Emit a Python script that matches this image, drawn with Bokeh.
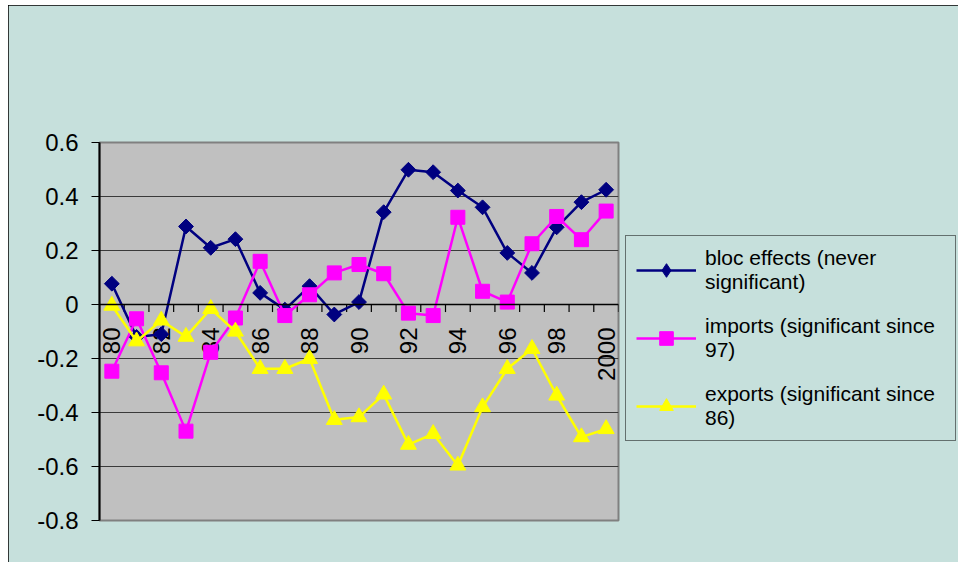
import numpy as np
from bokeh.plotting import figure
from bokeh.models import Range1d, FixedTicker, Span, Legend, LegendItem
from bokeh.core.properties import value
from bokeh.embed import file_html
from bokeh.resources import INLINE

years = list(range(1980, 2001))
bloc = [0.077, -0.12, -0.11, 0.289, 0.21, 0.242, 0.043, -0.019, 0.068, -0.037, 0.009,
        0.342, 0.499, 0.49, 0.422, 0.36, 0.191, 0.117, 0.286, 0.379, 0.425]
imports = [-0.247, -0.053, -0.253, -0.469, -0.177, -0.05, 0.16, -0.041, 0.036, 0.117, 0.148,
           0.114, -0.032, -0.041, 0.323, 0.049, 0.009, 0.225, 0.326, 0.24, 0.346]
exports = [-0.004, -0.136, -0.059, -0.119, -0.016, -0.1, -0.238, -0.238, -0.201, -0.427, -0.417,
           -0.333, -0.519, -0.479, -0.596, -0.38, -0.238, -0.164, -0.337, -0.491, -0.461]
label_years = [1980, 1982, 1984, 1986, 1988, 1990, 1992, 1994, 1996, 1998, 2000]
x_labels = ["80", "82", "84", "86", "88", "90", "92", "94", "96", "98", "2000"]
y_ticks = [-0.8, -0.6, -0.4, -0.2, 0, 0.2, 0.4, 0.6]
y_labels = ["-0.8", "-0.6", "-0.4", "-0.2", "0", "0.2", "0.4", "0.6"]
series_names = ["bloc effects (never\nsignificant)", "imports (significant since\n97)",
                "exports (significant since\n86)"]

BG = "#C6E0DC"
FONT = "Liberation Sans"

p = figure(frame_width=519, frame_height=378, output_backend="svg", toolbar_location=None,
           x_range=Range1d(years[0] - 0.5, years[-1] + 0.5), y_range=Range1d(-0.8, 0.6),
           min_border_left=91, min_border_right=0, min_border_top=137, min_border_bottom=42)
p.margin = (5, 0, 0, 8)
p.background_fill_color = "#C0C0C0"
p.border_fill_color = BG
p.outline_line_color = "#808080"
p.outline_line_width = 2
p.styles = {"outline": "1px solid black", "outline-offset": "-1px"}

p.xaxis.visible = False
p.xgrid.visible = False
p.ygrid.grid_line_color = "#3a3a3a"
p.ygrid.grid_line_width = 1
p.yaxis.ticker = FixedTicker(ticks=y_ticks)
p.yaxis.major_label_overrides = {t: l for t, l in zip(y_ticks, y_labels)}
p.yaxis.axis_line_color = "black"
p.yaxis.axis_line_width = 2
p.yaxis.major_tick_line_color = "black"
p.yaxis.major_tick_out = 8
p.yaxis.major_tick_in = 0
p.yaxis.minor_tick_line_color = None
p.yaxis.major_label_text_font = FONT
p.yaxis.major_label_text_font_size = "24px"
p.yaxis.major_label_text_color = "black"
p.yaxis.major_label_standoff = 13

# category axis at zero
p.add_layout(Span(location=0, dimension="width", line_color="black", line_width=1.5))
bounds = [y - 0.5 for y in years] + [years[-1] + 0.5]
p.segment(x0=bounds, y0=[0] * len(bounds), x1=bounds, y1=[-0.028] * len(bounds),
          line_color="black", line_width=1.2)
p.text(x=label_years, y=[0] * len(label_years), text=x_labels, angle=np.pi / 2,
       text_align="right", text_baseline="middle", y_offset=23,
       text_font=value(FONT), text_font_size="24px", text_color="black")

NAVY, MAG, YEL = "#000080", "#FF00FF", "#FFFF00"
l1 = p.line(years, bloc, line_color=NAVY, line_width=2.5)
m1 = p.scatter(years, bloc, marker="square", angle=np.pi / 4, size=10.5,
               fill_color=NAVY, line_color=NAVY)
l2 = p.line(years, imports, line_color=MAG, line_width=2.5)
m2 = p.scatter(years, imports, marker="square", size=14, fill_color=MAG, line_color=MAG)
l3 = p.line(years, exports, line_color=YEL, line_width=2.5)
m3 = p.scatter(years, exports, marker="triangle", size=16, fill_color=YEL, line_color=YEL)
# legend-only diamond (legend glyphs ignore the marker angle); its point is NaN so it is not drawn
d1 = p.scatter([np.nan], [np.nan], marker="diamond", fill_color=NAVY, line_color=NAVY)

legend = Legend(items=[LegendItem(label=series_names[0], renderers=[l1, d1]),
                       LegendItem(label=series_names[1], renderers=[l2, m2]),
                       LegendItem(label=series_names[2], renderers=[l3, m3])],
                location=(7, 79))
legend.border_line_color = "black"
legend.border_line_width = 1
legend.background_fill_color = BG
legend.background_fill_alpha = 1
legend.label_text_font = FONT
legend.label_text_font_size = "21px"
legend.label_text_color = "black"
legend.glyph_width = 60
legend.glyph_height = 34
legend.label_standoff = 9
legend.label_width = 240
legend.padding = 10
legend.spacing = 20
legend.margin = 0
p.add_layout(legend, "right")

open("out.html", "w").write(file_html(p, INLINE))
